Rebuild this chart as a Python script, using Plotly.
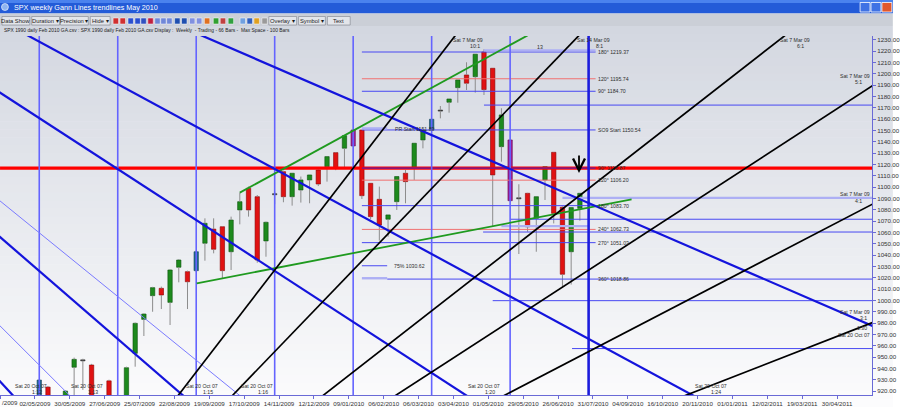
import plotly.graph_objects as go

FONT = "Liberation Sans, Arial, sans-serif"

# ---------------- weekly OHLC (bar 0 = week ending Sat 11 Apr 2009) ----------------
bar_no = list(range(67))
open_ = [842, 856, 869, 866, 877, 923.5, 882, 887, 941, 946.8,
         943, 915, 929, 900, 880, 953.3, 983.3, 1004.2, 1010.7, 998.3,
         1029.3, 1025.4, 1026.3, 1050.5, 1063, 1065.1, 1043, 1079.9, 1099, 1091.6,
         1052.5, 1093.6, 1113.7, 1091.6, 1097.5, 1106.4, 1115.2, 1118.1, 1130.5, 1134.4,
         1150.5, 1150.5, 1103.4, 1089.3, 1071.7, 1087.2, 1112.3, 1116.7, 1141.7, 1151.1,
         1167.4, 1175, 1187.9, 1199.1, 1197.6, 1219.4, 1205, 1135.8, 1141.7, 1090.4,
         1094.6, 1072.5, 1106.4, 1130.8, 1082.3, 1043, 1081.3]
high = [856, 875, 871, 888, 930.5, 924.5, 912, 920.5, 949.5, 948.5,
        944, 914, 930, 905, 941.5, 980.5, 988.5, 1012, 1012.2, 1027.5,
        1036.3, 1026.3, 1044, 1072.5, 1072.5, 1065.6, 1074, 1095.2, 1100.5, 1093.1,
        1069.6, 1096, 1114.6, 1112.3, 1109.4, 1110.8, 1116, 1127, 1131, 1145.5,
        1151, 1150.5, 1103.4, 1100.5, 1075.5, 1109.4, 1115.2, 1138.8, 1150.5, 1160,
        1171.7, 1177.9, 1194.7, 1210.3, 1217.4, 1221.8, 1205, 1169.7, 1142, 1102.6,
        1095, 1091.6, 1118.1, 1131, 1083, 1082, 1094.6]
low = [814, 845, 826, 850, 872, 878, 879, 882, 914, 921,
       905, 900, 895, 869, 875, 941.5, 968.6, 990, 992.4, 978.3,
       1016, 992.4, 1025, 1035.1, 1041.6, 1019.6, 1026.9, 1067.2, 1074, 1033.3,
       1038.6, 1085, 1086.7, 1083.7, 1086.4, 1085.8, 1101, 1104.9, 1115, 1117.3,
       1136, 1089.6, 1071.7, 1052.8, 1056.3, 1079.9, 1085.8, 1106.4, 1134.3, 1151.1,
       1160.8, 1165.8, 1174.6, 1185.8, 1183.5, 1181.4, 1065, 1122.5, 1088, 1041,
       1060.7, 1043, 1088.7, 1068, 1011, 1014, 1070.4]
close = [856, 869, 866, 877, 929.7, 882, 887, 920, 948, 947.4,
         910, 905, 900, 880, 940.6, 979.8, 988, 1011.3, 1004.8, 1026.9,
         1035.7, 1016.5, 1043, 1068.1, 1045.2, 1026.3, 1071, 1087.2, 1079.9, 1035.7,
         1069, 1094, 1091.6, 1112.3, 1106.4, 1110.8, 1102.8, 1127, 1116.7, 1145.5,
         1136.4, 1092.5, 1074, 1066.6, 1075.5, 1109.4, 1104.9, 1138.8, 1150.5, 1160,
         1167.9, 1177.9, 1194.7, 1191.8, 1217.4, 1186.2, 1110.8, 1163.8, 1088.1, 1090.0,
         1065, 1091.6, 1118.1, 1076.9, 1023.1, 1082, 1094.6]

# ---------------- axes ----------------
x_tick_bars = [-0.5, 3.5, 7.5, 11.5, 15.5, 19.5, 23.5, 27.5, 31.5, 35.5, 39.5, 43.5,
               47.5, 51.5, 55.5, 59.5, 63.5, 67.5, 71.5, 75.5, 79.5, 83.5, 87.5, 91.5, 95.5]
x_tick_text = ["04/04/2009", "02/05/2009", "30/05/2009", "27/06/2009", "25/07/2009",
               "22/08/2009", "19/09/2009", "17/10/2009", "14/11/2009", "12/12/2009",
               "09/01/2010", "06/02/2010", "06/03/2010", "03/04/2010", "01/05/2010",
               "29/05/2010", "26/06/2010", "31/07/2010", "04/09/2010", "16/10/2010",
               "20/11/2010", "01/01/2011", "12/02/2011", "19/03/2011", "30/04/2011"]
y_ticks = list(range(920, 1231, 10))
y_tick_text = [f"{v}.00" for v in y_ticks]

# ---------------- Gann fans ----------------
top_origin_bar, top_origin_price = -77, 1566.0      # Sat 20 Oct 07
top_unit = 100.0
top_ratios = [12, 13, 15, 16, 20, 24, 30]
top_thin = [False, True, False, True, False, False, False]

low_origin_bar, low_origin_price = -5, 666.79       # Sat 7 Mar 09
low_unit = 1.0
low_ratios = [10, 8, 6, 5, 4, 3]

# time cycle verticals (every 9 bars)
vertical_bars = [4, 13, 22, 31, 40, 49, 58, 67]

# green trendlines
green_lines = [[(27, 1095.2), (60, 1234.0)],
               [(22.06, 1015.1), (71.93, 1089.3)]]

# square-of-nine levels
so9_prices = [1219.37, 1195.74, 1184.70, 1150.54, 1116.87, 1106.20, 1083.70, 1062.73, 1051.03, 1018.86]
so9_text = ["180° 1219.37", "120° 1195.74", "90° 1184.70", "SO9 Start 1150.54", "90° 1116.87",
            "120° 1106.20", "180° 1083.70", "240° 1062.73", "270° 1051.03", "360° 1018.86"]
so9_style = ["blue", "red", "blue", "blue", "purple", "red", "blue", "red", "blue", "blue"]
so9_start = [41, 41, 41, 41, 41, 41, 41, 41, 41, 43.9]
so9_end = [67.8, 67.8, 67.8, 67.8, 67.8, 67.8, 67.8, 67.8, 67.8, 99.5]

extra_prices = [1220.8, 1151.9, 1030.62, 1019.6, 1065.6, 1090.6, 1172.5, 1071.7, 1060.4, 999.8, 957.5]
extra_start = [55, 41, 41, 41, 57, 64, 55, 58, 54.9, 56, 65.1]
extra_end = [67.8, 43.9, 43.9, 43.9, 67, 99.5, 99.5, 99.5, 99.5, 99.5, 99.5]
extra_style = ["light", "light", "blue", "light", "light", "light", "blue", "blue", "blue", "blue", "blue"]

main_red_level = 1116.87

level_side_labels = [("PR Start 1151.89", 44.55, 1151.3), ("75% 1030.62", 44.44, 1030.8)]

fan_labels = [("Sat 7 Mar 09", 53.2, 1230.4), ("10:1", 54.0, 1224.7), ("13", 61.4, 1223.8),
              ("Sat 14 Mar 09", 67.6, 1230.4), ("8:1", 68.2, 1224.7),
              ("Sat 7 Mar 09", 90.7, 1230.4), ("6:1", 91.3, 1224.7),
              ("Sat 7 Mar 09", 97.5, 1197.8), ("5:1", 98.0, 1192.5),
              ("Sat 7 Mar 09", 97.5, 1093.6), ("4:1", 98.0, 1088.2),
              ("Sat 7 Mar 09", 97.5, 989.8), ("3:1", 98.5, 984.5),
              ("1:30", 98.4, 975.6), ("Sat 20 Oct 07", 97.4, 969.5),
              ("Sat 20 Oct 07", 3.08, 924.4), ("1:12", 3.77, 919.1),
              ("Sat 20 Oct 07", 9.51, 924.4), ("1:13", 10.19, 919.1),
              ("Sat 20 Oct 07", 22.65, 924.4), ("1:15", 23.33, 919.1),
              ("Sat 20 Oct 07", 28.97, 924.4), ("1:16", 29.7, 919.1),
              ("Sat 20 Oct 07", 55.02, 924.4), ("1:20", 55.64, 919.1),
              ("Sat 20 Oct 07", 81.01, 924.4), ("1:24", 81.64, 919.1)]

arrow_bar, arrow_price = 65.9, 1112.5

# ---------------- styles ----------------
COL = {
    "up": "#1d8a1d", "up_edge": "#0c500c",
    "dn": "#e01212", "dn_edge": "#8a0000",
    "teal": "#1e6a8e", "teal_edge": "#123f58",
    "purple": "#a01e96", "purple_edge": "#5e0f58",
    "doji": "#333333", "wick": "#8c8c8c",
}
LEVEL_STYLE = {"blue": ("#4848f2", 1.0), "red": ("#f07070", 1.0),
               "light": ("#adaff4", 2.4), "purple": ("#8a1678", 1.6)}

fig = go.Figure()

# ---- candles: wicks ----
wx, wy = [], []
for i, o, hh, ll, cc in zip(bar_no, open_, high, low, close):
    top, bot = max(o, cc), min(o, cc)
    wx += [i, i, None, i, i, None]
    wy += [ll, bot, None, top, hh, None]
fig.add_trace(go.Scatter(x=wx, y=wy, mode="lines", line=dict(color=COL["wick"], width=1),
                         hoverinfo="skip"))

# ---- candles: bodies ----
bx, bbase, bh, bcol, bedge = [], [], [], [], []
for i, o, cc in zip(bar_no, open_, close):
    on_vert = i in vertical_bars
    if abs(cc - o) < 1.0:
        kind = "doji"
    elif cc > o:
        kind = "teal" if on_vert else "up"
    else:
        kind = "purple" if on_vert else "dn"
    bx.append(i)
    if kind == "doji":
        bbase.append((o + cc) / 2 - 0.45)
        bh.append(0.9)
        bcol.append(COL["doji"]); bedge.append(COL["doji"])
    else:
        bbase.append(min(o, cc))
        bh.append(abs(cc - o))
        bcol.append(COL[kind]); bedge.append(COL[kind + "_edge"])
fig.add_trace(go.Bar(x=bx, y=bh, base=bbase, width=0.5,
                     marker=dict(color=bcol, line=dict(color=bedge, width=0.6)),
                     hoverinfo="skip"))

def add_line(xs, ys, color, width):
    fig.add_trace(go.Scatter(x=xs, y=ys, mode="lines", line=dict(color=color, width=width),
                             hoverinfo="skip"))

# ---- main red level ----
add_line([-0.5, 99.5], [main_red_level, main_red_level], "#ff0000", 3.4)

# ---- SO9 levels ----
for p, s, e, st in zip(so9_prices, so9_start, so9_end, so9_style):
    c_, w_ = LEVEL_STYLE[st]
    add_line([s, e], [p, p], c_, w_)
for p, s, e, st in zip(extra_prices, extra_start, extra_end, extra_style):
    c_, w_ = LEVEL_STYLE[st]
    add_line([s, e], [p, p], c_, w_)

# ---- verticals ----
for b in vertical_bars:
    last = b == vertical_bars[-1]
    add_line([b, b], [880, 1260], "#1c1cdc" if last else "#6464ff", 2.6 if last else 1.6)

# ---- green trendlines ----
for (x0, y0), (x1, y1) in green_lines:
    add_line([x0, x1], [y0, y1], "#1f9a1f", 1.8)

# ---- blue fan (down from Oct 07 top) ----
for n, thin in zip(top_ratios, top_thin):
    x_end = 100
    y_end = top_origin_price - top_unit / n * (x_end - top_origin_bar)
    add_line([top_origin_bar, x_end], [top_origin_price, y_end],
             "#7a7aff" if thin else "#1414dc", 1.0 if thin else 2.2)

# ---- black fan (up from Mar 09 low) ----
for n in low_ratios:
    x_end = 100
    y_end = low_origin_price + low_unit * n * (x_end - low_origin_bar)
    add_line([low_origin_bar, x_end], [low_origin_price, y_end], "#000000", 1.7)

# ---------------- layout helpers for window chrome ----------------
W, H = 900, 407
ML, MR, MT, MB = 0, 21, 36, 12
PW, PH = W - ML - MR, H - MT - MB
def px(x): return (x - ML) / PW
def py(y): return (H - MB - y) / PH

shapes = []
# panel gradient background
N = 48
c_top, c_bot = (211, 215, 224), (252, 252, 253)
for k in range(N):
    y0 = 26 + (H - 26) * k / N
    y1 = 26 + (H - 26) * (k + 1) / N + 0.6
    t = (k + 0.5) / N
    col = "rgb(%d,%d,%d)" % tuple(round(a + (b - a) * t) for a, b in zip(c_top, c_bot))
    shapes.append(dict(type="rect", xref="paper", yref="paper", x0=px(0), x1=px(W),
                       y0=py(y1), y1=py(y0), fillcolor=col, line_width=0, layer="below"))
# title bar
shapes.append(dict(type="rect", xref="paper", yref="paper", x0=px(0), x1=px(W), y0=py(13.5), y1=py(0),
                   fillcolor="#235bd8", line_width=0, layer="above"))
shapes.append(dict(type="rect", xref="paper", yref="paper", x0=px(0), x1=px(W), y0=py(3), y1=py(0),
                   fillcolor="#4a82ee", line_width=0, layer="above"))
# toolbar
shapes.append(dict(type="rect", xref="paper", yref="paper", x0=px(0), x1=px(W), y0=py(26), y1=py(13.5),
                   fillcolor="#cbcfd7", line_width=0, layer="above"))
buttons = [("Data Show", 2, 30), ("Duration ▾", 32, 60), ("Precision ▾", 61, 89), ("Hide ▾", 91, 111),
           ("Overlay ▾", 271, 299), ("Symbol ▾", 301, 328), ("Text", 330, 353)]
for label, x0, x1 in buttons:
    shapes.append(dict(type="rect", xref="paper", yref="paper", x0=px(x0), x1=px(x1),
                       y0=py(25), y1=py(16.5), fillcolor="#e3e5ea",
                       line=dict(color="#7d828c", width=0.6), layer="above"))
icons = [(114, "#d03030"), (121, "#d03030"), (129, "#2a4fd0"), (136, "#2a4fd0"), (142, "#3050c0"),
         (149, "#c02040"), (156, "#7088d8"), (162, "#7088d8"), (168, "#7088d8"), (176, "#1f4fb0"),
         (183, "#1f4fb0"), (191, "#8090e0"), (198, "#8090e0"), (206, "#e07020"), (215, "#30a030"),
         (222, "#c04040"), (230, "#30a040"), (242, "#70a0e0"), (249, "#3060c0"), (256, "#e0a020"),
         (264, "#9a9a9a")]
for x0, colr in icons:
    shapes.append(dict(type="rect", xref="paper", yref="paper", x0=px(x0), x1=px(x0 + 5.5),
                       y0=py(24), y1=py(18), fillcolor=colr,
                       line=dict(color="#ffffff", width=0.5), layer="above"))
# window buttons
for x0, colr in [(867, "#3f72e4"), (878, "#3f72e4"), (889, "#e0582e")]:
    shapes.append(dict(type="rect", xref="paper", yref="paper", x0=px(x0), x1=px(x0 + 10),
                       y0=py(12), y1=py(2.5), fillcolor=colr,
                       line=dict(color="#ffffff", width=0.8), layer="above"))
shapes.append(dict(type="circle", xref="paper", yref="paper", x0=px(1.5), x1=px(8.5),
                   y0=py(10.5), y1=py(3.5), fillcolor="#8fb4f0",
                   line=dict(color="#ffffff", width=0.6), layer="above"))

annotations = []
def txt(text, x, y, size=5.2, color="#2e2e2e", xanchor="center", xref="x", yref="y"):
    annotations.append(dict(text=text, x=x, y=y, xref=xref, yref=yref, showarrow=False,
                            xanchor=xanchor, yanchor="middle",
                            font=dict(family=FONT, size=size, color=color)))

for t_, p_ in zip(so9_text, so9_prices):
    txt(t_, 67.9, p_, xanchor="left")
for t_, b_, p_ in level_side_labels:
    txt(t_, b_, p_, xanchor="left")
for t_, b_, p_ in fan_labels:
    txt(t_, b_, p_)

# arrow
annotations.append(dict(x=arrow_bar, y=arrow_price, xref="x", yref="y", ax=0, ay=-19,
                        showarrow=True, arrowhead=5, arrowsize=1.3, arrowwidth=1.8,
                        arrowcolor="#000000", text=""))

# clipped first date label at the left edge
txt("/2009", px(0), py(402.5), size=6.2, color="#333333", xanchor="left", xref="paper", yref="paper")

# chrome text
txt("SPX weekly Gann Lines trendlines May 2010", px(12), py(7), size=7.2, color="#ffffff",
    xanchor="left", xref="paper", yref="paper")
for label, x0, x1 in buttons:
    txt(label, px((x0 + x1) / 2), py(20.8), size=5.8, color="#1a1a1a", xref="paper", yref="paper")
txt("SPX 1990 daily Feb 2010 GA.csv : SPX 1990 daily Feb 2010 GA.csv Display :  Weekly  - Trading - 66 Bars -  Max Space - 100 Bars",
    px(2), py(30.5), size=4.9, color="#222222", xanchor="left", xref="paper", yref="paper")

axis_col = "#6a6ad6"
fig.update_layout(
    width=W, height=H,
    margin=dict(l=ML, r=MR, t=MT, b=MB, pad=0),
    paper_bgcolor="#ffffff", plot_bgcolor="rgba(0,0,0,0)",
    showlegend=False, barmode="overlay",
    shapes=shapes, annotations=annotations,
    xaxis=dict(range=[-0.502, 99.5], tickmode="array", tickvals=x_tick_bars, ticktext=x_tick_text,
               showgrid=False, zeroline=False, showline=True, linecolor=axis_col, linewidth=1,
               ticks="outside", ticklen=3, tickcolor=axis_col,
               tickfont=dict(family=FONT, size=6.2, color="#333333"), fixedrange=True),
    yaxis=dict(range=[916.5, 1233.5], side="right", tickmode="array", tickvals=y_ticks,
               ticktext=y_tick_text, showgrid=False, zeroline=False, showline=True,
               linecolor=axis_col, linewidth=1, ticks="outside", ticklen=3, tickcolor=axis_col,
               tickfont=dict(family=FONT, size=6.2, color="#333333"), fixedrange=True),
)

fig.write_html("out.html")
